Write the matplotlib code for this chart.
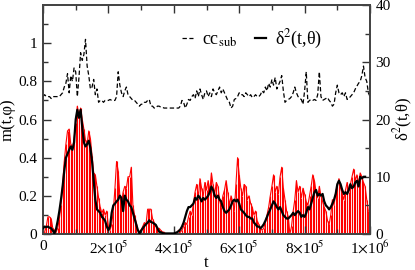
import numpy as np
import matplotlib
matplotlib.use("Agg")
import matplotlib.pyplot as plt
from matplotlib.ticker import MultipleLocator, FixedLocator

plt.rcParams["font.family"] = ["Liberation Serif", "DejaVu Serif"]
plt.rcParams["mathtext.fontset"] = "stix"

# sampled every 5000 steps
t_m = np.arange(0, 1000000, 5000)
m_vals = [
    0.00, 0.01, 0.04, 0.09, 0.09, 0.08, 0.03, 0.02, 0.01, 0.03,
    0.08, 0.15, 0.26, 0.38, 0.47, 0.54, 0.55, 0.47, 0.44, 0.50,
    0.58, 0.67, 0.62, 0.66, 0.60, 0.55, 0.49, 0.47, 0.54, 0.50,
    0.41, 0.32, 0.31, 0.25, 0.19, 0.14, 0.11, 0.13, 0.10, 0.12,
    0.04, 0.02, 0.05, 0.12, 0.24, 0.38, 0.33, 0.20, 0.16, 0.22,
    0.25, 0.24, 0.30, 0.30, 0.35, 0.15, 0.10, 0.06, 0.02, 0.01,
    0.02, 0.04, 0.06, 0.05, 0.13, 0.13, 0.13, 0.08, 0.06, 0.04,
    0.03, 0.03, 0.02, 0.01, 0.01, 0.00, 0.00, 0.00, 0.00, 0.00,
    0.00, 0.00, 0.01, 0.02,
    0.01, 0.02, 0.04, 0.06, 0.05, 0.09, 0.12, 0.10, 0.16, 0.22,
    0.26, 0.19, 0.29, 0.24, 0.20, 0.27, 0.23, 0.28, 0.22, 0.32,
    0.26, 0.21, 0.27, 0.25, 0.18, 0.14, 0.20, 0.23, 0.28, 0.22,
    0.15, 0.20, 0.17, 0.12, 0.26, 0.40, 0.31, 0.24, 0.20, 0.26,
    0.25, 0.18, 0.20, 0.16, 0.14, 0.10, 0.12, 0.07, 0.05, 0.03,
    0.02, 0.03, 0.06, 0.10, 0.14, 0.20, 0.25, 0.31, 0.22, 0.25,
    0.21, 0.30, 0.35, 0.24, 0.18, 0.12, 0.09, 0.00, 0.04, 0.12,
    0.18, 0.28, 0.22, 0.25, 0.19, 0.24, 0.21, 0.17, 0.15, 0.20,
    0.25, 0.31, 0.28, 0.22, 0.19, 0.25, 0.20, 0.17, 0.14, 0.12,
    0.07, 0.05, 0.10, 0.18, 0.15, 0.22, 0.25, 0.29, 0.24, 0.21,
    0.18, 0.23, 0.27, 0.22, 0.26, 0.30, 0.34, 0.28, 0.31, 0.26,
    0.32, 0.30, 0.27, 0.25, 0.18, 0.12,
]

t_d = np.arange(0, 990000, 5000)
delta2 = [
    1.0, 1.3, 1.2, 1.3, 1.1, 1.0, 0.6, 0.1, 0.9, 2.3,
    4.0, 6.0, 8.3, 11.0, 13.3, 14.0, 14.7, 15.3, 14.7, 16.0,
    20.0, 21.7, 20.3, 21.7, 18.7, 16.0, 15.3, 15.7, 16.3, 15.0,
    12.7, 9.3, 6.0, 4.3, 4.0, 3.7, 3.0, 2.7, 2.3, 1.3,
    0.7, 1.3, 3.7, 5.0, 5.3, 5.7, 6.0, 6.7, 6.3, 4.0,
    6.7, 6.0, 5.7, 5.0, 4.7, 3.7, 2.7, 1.7, 0.7, 0.1,
    0.6, 1.0, 1.4, 1.7, 2.0, 2.4, 2.1, 2.0, 1.8, 1.6,
    1.0, 0.4, 0.3, 0.2, 0.1, 0.1, 0.1, 0.1, 0.1, 0.1,
    0.1, 0.2, 0.3, 0.5, 0.8, 1.3, 2.0, 3.0, 4.0, 4.7,
    4.7, 5.0, 5.3, 6.3, 6.0, 6.7, 6.3, 5.7, 6.3, 6.0,
    6.3, 6.7, 7.3, 8.3, 7.7, 6.7, 6.3, 6.7, 6.0, 5.7,
    4.7, 4.0, 3.7, 4.0, 4.3, 5.0, 5.7, 6.0, 5.7, 6.0,
    5.3, 4.3, 4.0, 3.7, 3.3, 3.0, 3.0, 2.7, 2.7, 2.0,
    1.7, 1.3, 1.3, 1.0, 1.3, 1.7, 2.3, 3.0, 3.7, 4.3,
    5.0, 5.7, 5.3, 4.7, 4.3, 4.7, 4.0, 3.3, 3.0, 2.7,
    2.7, 3.0, 3.3, 3.7, 3.3, 3.7, 4.0, 3.7, 3.0, 3.3,
    3.0, 3.7, 4.7, 4.3, 5.3, 6.3, 7.3, 7.7, 6.7, 7.0,
    6.7, 7.0, 5.7, 5.0, 4.7, 4.3, 4.7, 5.3, 6.0, 7.0,
    8.7, 9.3, 8.7, 7.7, 7.0, 7.3, 7.0, 7.7, 8.7, 8.0,
    8.3, 9.0, 9.3, 8.3, 10.0, 9.7, 10.0, 10.0,
]

t_cc = np.arange(0, 1000001, 5000)
cc_sub = [
    0.72, 0.73, 0.72, 0.72, 0.72, 0.71, 0.72, 0.72, 0.72, 0.72,
    0.72, 0.73, 0.74, 0.77, 0.79, 0.84, 0.74, 0.83, 0.80, 0.87,
    0.85, 0.72, 0.82, 0.95, 0.91, 0.94, 1.02, 0.88, 0.83, 0.76,
    0.77, 0.81, 0.73, 0.76, 0.69, 0.70, 0.70, 0.69, 0.70, 0.70,
    0.70, 0.705, 0.70, 0.70, 0.70, 0.72, 0.85, 0.78, 0.74, 0.72,
    0.75, 0.77, 0.73, 0.72, 0.71, 0.70, 0.70, 0.69, 0.68, 0.67,
    0.68, 0.68, 0.69, 0.69, 0.70, 0.705, 0.67, 0.67, 0.66, 0.66,
    0.67, 0.67, 0.665, 0.665, 0.66, 0.66, 0.66, 0.66, 0.66, 0.66,
    0.66, 0.66, 0.66, 0.66, 0.67, 0.70, 0.69, 0.66, 0.68, 0.705,
    0.70, 0.72, 0.73, 0.71, 0.75, 0.72, 0.76, 0.73, 0.705, 0.74,
    0.75, 0.72, 0.74, 0.72, 0.76, 0.74, 0.73, 0.75, 0.77, 0.74,
    0.76, 0.74, 0.72, 0.70, 0.69, 0.66, 0.67, 0.705, 0.71, 0.72,
    0.74, 0.73, 0.73, 0.72, 0.74, 0.73, 0.72, 0.73, 0.715, 0.72,
    0.73, 0.72, 0.72, 0.73, 0.75, 0.74, 0.77, 0.75, 0.79, 0.77,
    0.81, 0.78, 0.82, 0.76, 0.78, 0.80, 0.83, 0.75, 0.69, 0.70,
    0.705, 0.71, 0.72, 0.74, 0.77, 0.74, 0.72, 0.71, 0.705, 0.68,
    0.75, 0.85, 0.69, 0.70, 0.705, 0.70, 0.705, 0.70, 0.73, 0.85,
    0.72, 0.70, 0.705, 0.71, 0.715, 0.70, 0.69, 0.67, 0.68, 0.74,
    0.78, 0.74, 0.73, 0.74, 0.72, 0.74, 0.705, 0.71, 0.72, 0.73,
    0.74, 0.76, 0.775, 0.79, 0.80, 0.83, 0.88, 0.82, 0.80, 0.74,
    0.72,
]

fig = plt.figure(figsize=(4.15, 2.7), dpi=100)
ax = fig.add_axes([0.1036, 0.1333, 0.788, 0.8482])
ax2 = ax.twinx()

ax.vlines(t_m, 0, m_vals, color="red", lw=0.8, zorder=1)
ax.plot(t_m, m_vals, color="red", lw=0.8, zorder=2)
cc_line, = ax.plot(t_cc, cc_sub, color="black", lw=0.9, dashes=(3.5, 2), zorder=3)
d_line, = ax2.plot(t_d, delta2, color="black", lw=1.6, zorder=4)

ax.set_xlim(0, 1000000)
ax.set_ylim(0, 1.2)
ax2.set_ylim(0, 40)

ax.xaxis.set_major_locator(FixedLocator([0, 2e5, 4e5, 6e5, 8e5, 1e6]))
ax.xaxis.set_minor_locator(MultipleLocator(1e5))
ax.set_xticklabels(["0", r"2$\times$10$^5$", r"4$\times$10$^5$",
                    r"6$\times$10$^5$", r"8$\times$10$^5$", r"1$\times$10$^6$"])
ax.yaxis.set_major_locator(FixedLocator([0, 0.2, 0.4, 0.6, 0.8, 1.0]))
ax.yaxis.set_minor_locator(FixedLocator(np.arange(0.1, 1.15, 0.2)))
ax.set_yticklabels(["0", "0.2", "0.4", "0.6", "0.8", "1"])
ax2.yaxis.set_major_locator(MultipleLocator(10))
ax2.yaxis.set_minor_locator(MultipleLocator(5))

ax.tick_params(which="both", direction="in", top=True, right=False,
               labelsize=11, pad=4, color="#333333")
ax.tick_params(which="major", length=6, width=1)
ax.tick_params(which="minor", length=3.5, width=1)
ax2.tick_params(which="both", direction="in", labelsize=11, pad=4, color="#333333")
ax2.tick_params(which="major", length=6, width=1)
ax2.tick_params(which="minor", length=3.5, width=1)

for a in (ax, ax2):
    for s in a.spines.values():
        s.set_linewidth(1.3)
        s.set_color("#444444")

ax.set_xlabel("t", fontsize=12, labelpad=-1)
ax.set_ylabel("m(t,φ)", fontsize=12, labelpad=2)
ax2.set_ylabel(r"δ$^2$(t,θ)", fontsize=12, rotation=90, labelpad=1)

ax.legend([cc_line, d_line], [r"cc$_{\rm sub}$", r"δ$^2$(t,θ)"], ncol=2,
          frameon=False, loc="center left", bbox_to_anchor=(0.425, 0.85),
          borderaxespad=0, borderpad=0, fontsize=13, handlelength=0.6,
          handletextpad=0.5, columnspacing=1.0)

fig.savefig("out.png", dpi=100)
